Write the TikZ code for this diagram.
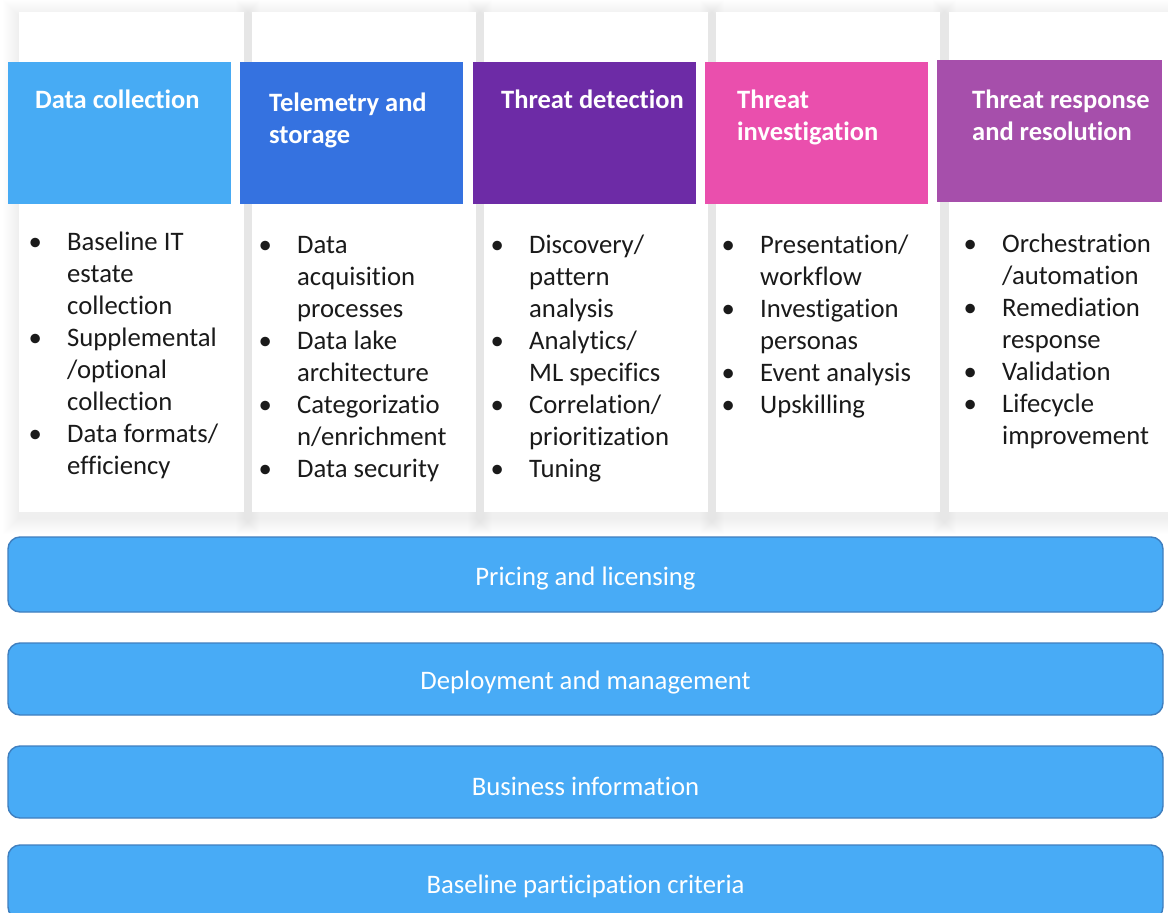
\documentclass[tikz,border=0pt]{standalone}
\usepackage{fontspec}
\setmainfont{Carlito}[Ligatures={NoCommon}, RawFeature={-calt;-dlig}]
\definecolor{hdA}{HTML}{47ABF4}
\definecolor{hdB}{HTML}{3572E0}
\definecolor{hdC}{HTML}{6D2BA6}
\definecolor{hdD}{HTML}{EA4FAD}
\definecolor{hdE}{HTML}{A64FAB}
\definecolor{barfill}{HTML}{48ABF6}
\definecolor{barline}{HTML}{3F7FBF}
\definecolor{bodytext}{HTML}{1A1A1A}
% one column of text lines, 32pt apart
\newcommand{\celllines}[1]{\begin{tabular}{@{}l@{}}#1\end{tabular}}
\newcommand{\bulletlines}[1]{\begin{tabular}{@{}l@{}l@{}}#1\end{tabular}}
\newcommand{\bul}{\makebox[38.5pt][l]{\textbullet}}
% bar label, lowered a little inside the bar
\newcommand{\barlabel}[1]{\raisebox{-4pt}[\height][\depth]{#1}}
\begin{document}
\begin{tikzpicture}[x=1pt,y=-1pt,
  card/.style={fill=white, anchor=north west, inner sep=0pt, outer sep=0pt,
    minimum height=500pt},
  headbox/.style={anchor=north west, inner sep=0pt, outer sep=0pt,
    minimum width=223pt, minimum height=142pt},
  headtext/.style={anchor=north west, inner sep=0pt, text=white,
    font=\bfseries\fontsize{26.5}{32}\selectfont},
  bodylist/.style={anchor=north west, inner sep=0pt, text=bodytext,
    font=\fontsize{26.7}{32}\selectfont},
  bar/.style={draw=barline, line width=1.4pt, fill=barfill, rounded corners=12pt,
    minimum width=1155pt, text=white, font=\fontsize{26.7}{32}\selectfont,
    inner sep=0pt},
]
\useasboundingbox (0,0) rectangle (1168,913);
\fill[white] (0,0) rectangle (1168,913);

% soft shadows behind the five cards
\foreach \l/\r in {19/244,252/476,484/708,716/940,949/1173} {
  \foreach \k in {1,...,16}
    \fill[black, opacity=0.0035] (\l-\k,16-\k) rectangle (\r+\k,518+\k);
}

% white cards
\node[card, minimum width=225pt] (c1) at (19,12) {};
\node[card, minimum width=224pt] (c2) at (252,12) {};
\node[card, minimum width=224pt] (c3) at (484,12) {};
\node[card, minimum width=224pt] (c4) at (716,12) {};
\node[card, minimum width=224pt] (c5) at (949,12) {};

% coloured headers
\node[headbox, fill=hdA] (h1) at (8,62) {};
\node[headbox, fill=hdB] (h2) at (240,62) {};
\node[headbox, fill=hdC] (h3) at (473,62) {};
\node[headbox, fill=hdD] (h4) at (705,62) {};
\node[headbox, fill=hdE, minimum width=225pt] (h5) at (937,60) {};

\node[headtext] (t1) at (35,108-22.4) {\celllines{Data collection}};
\node[headtext] (t2) at (269,111-22.4) {\celllines{Telemetry and\\storage}};
\node[headtext] (t3) at (501,108-22.4) {\celllines{Threat detection}};
\node[headtext] (t4) at (737,108-22.4) {\celllines{Threat\\investigation}};
\node[headtext] (t5) at (972,108-22.4) {\celllines{Threat response\\and resolution}};

% bullet lists
\node[bodylist] (l1) at (35-6.5,250-22.4) {\bulletlines{
  \bul & Baseline IT\\ & estate\\ & collection\\
  \bul & Supplemental\\ & /optional\\ & collection\\
  \bul & Data formats/\\ & efficiency}};
\node[bodylist] (l2) at (265-6.5,253-22.4) {\bulletlines{
  \bul & Data\\ & acquisition\\ & processes\\
  \bul & Data lake\\ & architecture\\
  \bul & Categorizatio\\ & n/enrichment\\
  \bul & Data security}};
\node[bodylist] (l3) at (497-6.5,253-22.4) {\bulletlines{
  \bul & Discovery/\\ & pattern\\ & analysis\\
  \bul & Analytics/\\ & ML specifics\\
  \bul & Correlation/\\ & prioritization\\
  \bul & Tuning}};
\node[bodylist] (l4) at (728-6.5,253-22.4) {\bulletlines{
  \bul & Presentation/\\ & workflow\\
  \bul & Investigation\\ & personas\\
  \bul & Event analysis\\
  \bul & Upskilling}};
\node[bodylist] (l5) at (970-6.5,252-22.4) {\bulletlines{
  \bul & Orchestration\\ & /automation\\
  \bul & Remediation\\ & response\\
  \bul & Validation\\
  \bul & Lifecycle\\ & improvement}};

% full-width bars
\node[bar, minimum height=75pt] (b1) at (585.5,574.5) {\barlabel{Pricing and licensing}};
\node[bar, minimum height=72pt] (b2) at (585.5,679) {\barlabel{Deployment and management}};
\node[bar, minimum height=72pt] (b3) at (585.5,782) {\barlabel{Business information}};
\node[bar, minimum height=74pt] (b4) at (585.5,882) {\barlabel{Baseline participation criteria}};
\end{tikzpicture}
\end{document}
